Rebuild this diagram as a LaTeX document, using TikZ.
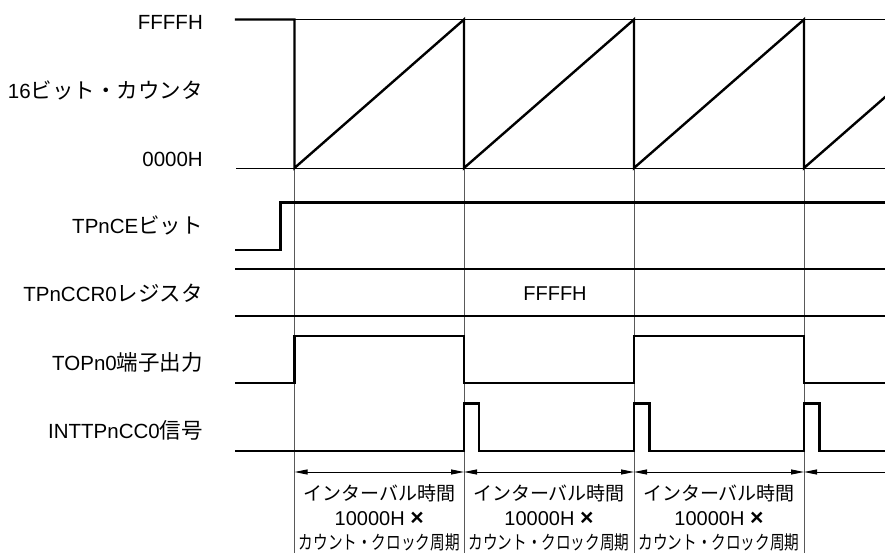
\documentclass[tikz,border=0pt]{standalone}
\usepackage{fontspec}
\setmainfont{Liberation Sans}
\newfontfamily\jp{Noto Sans CJK JP}
\newcommand{\jl}[1]{{\jp\fontsize{21.5}{24}\selectfont #1}}
\usetikzlibrary{arrows.meta}
\begin{document}
\begin{tikzpicture}[x=1pt,y=-1pt,
  sig/.style={line width=2.4pt, line join=miter, line cap=rect},
  ref/.style={line width=0.9pt},
  grid/.style={line width=0.9pt, draw=black!65},
  dim/.style={line width=0.9pt, {Triangle[length=13pt,width=5pt]}-{Triangle[length=13pt,width=5pt]}},
  dimleft/.style={line width=0.9pt, {Triangle[length=13pt,width=5pt]}-},
  lab/.style={anchor=east, inner sep=0pt, font=\fontsize{20.5}{24}\selectfont},
  txt/.style={inner sep=0pt, font=\fontsize{20}{24}\selectfont},
  jtx/.style={inner sep=0pt, font=\jp\fontsize{19}{24}\selectfont},
  ctx/.style={inner sep=0pt, font=\jp\fontsize{19}{24}\selectfont, xscale=0.77, transform shape}
]
\useasboundingbox (0,0) rectangle (885,553);

% edge times
\coordinate (t0) at (294.5,0);
\coordinate (t1) at (464,0);
\coordinate (t2) at (634,0);
\coordinate (t3) at (804,0);

% left labels
\node[lab] (lffff) at (203,22) {FFFFH};
\node[lab] (lcnt) at (203,90) {16\jl{ビット・カウンタ}};
\node[lab] (l0000) at (203,159) {0000H};
\node[lab] (lce) at (203,225) {TPnCE\jl{ビット}};
\node[lab] (lccr) at (203,293) {TPnCCR0\jl{レジスタ}};
\node[lab] (ltop) at (203,362) {TOPn0\jl{端子出力}};
\node[lab] (lint) at (203,430) {INTTPnCC0\jl{信号}};

% vertical grid lines
\foreach \t in {t0,t1,t2,t3}
  \draw[grid] (\t |- 0,168) -- (\t |- 0,553);

% reference levels of the counter
\draw[ref] (236,19.5) -- (885,19.5);
\draw[ref] (236,168) -- (885,168);

% sawtooth counter
\draw[sig] (236,19.5) -- (294.5,19.5) -- (294.5,168) -- (464,19.5) -- (464,168)
  -- (634,19.5) -- (634,168) -- (804,19.5) -- (804,168) -- (885,97.2);

% TPnCE bit
\draw[sig] (236,250) -- (280.5,250) -- (280.5,202.5) -- (885,202.5);

% TPnCCR0 register
\draw[sig] (236,269) -- (885,269);
\draw[sig] (236,316) -- (885,316);
\node[txt] (vffff) at (555,294) {FFFFH};

% TOPn0 output
\draw[sig] (236,383) -- (294.5,383) -- (294.5,336) -- (464,336) -- (464,383)
  -- (634,383) -- (634,336) -- (804,336) -- (804,383) -- (885,383);

% INTTPnCC0 signal
\draw[sig] (236,451) -- (464,451) -- (464,403.5) -- (479,403.5) -- (479,451)
  -- (634,451) -- (634,403.5) -- (649.5,403.5) -- (649.5,451)
  -- (804,451) -- (804,403.5) -- (819.5,403.5) -- (819.5,451) -- (885,451);

% interval arrows
\coordinate (a0) at (294.5,472);
\coordinate (a1) at (464,472);
\coordinate (a2) at (634,472);
\coordinate (a3) at (804,472);
\coordinate (a4) at (885,472);
\draw[dim] (a0) -- (a1);
\draw[dim] (a1) -- (a2);
\draw[dim] (a2) -- (a3);
\draw[dimleft] (a3) -- (a4);

% interval texts
\foreach \x/\n in {379.25/a,549/b,719/c}{
  \node[jtx] (i\n) at (\x,493) {インターバル時間};
  \node[txt] (m\n) at (\x,519) {10000H {\bfseries\fontsize{23}{24}\selectfont ×}};
  \node[ctx] (c\n) at (\x,542) {カウント・クロック周期};
}
\end{tikzpicture}
\end{document}
